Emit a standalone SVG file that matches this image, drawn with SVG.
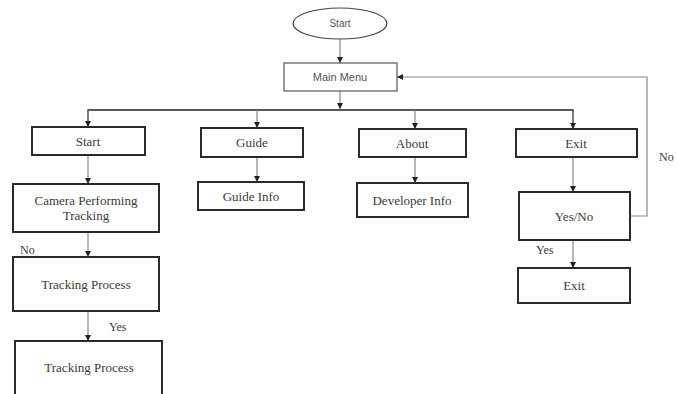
<svg xmlns="http://www.w3.org/2000/svg" width="677" height="394" viewBox="0 0 677 394">
<style>
.box{fill:#fff;stroke:#2a2a2a;stroke-width:2}
.thin{fill:#fff;stroke:#555;stroke-width:1.2}
.t{font-family:"Liberation Serif","Times New Roman",serif;font-size:13px;fill:#3a3a3a;text-anchor:middle}
.s{font-family:"Liberation Sans",Arial,sans-serif;fill:#555;text-anchor:middle}
.lbl{font-family:"Liberation Serif","Times New Roman",serif;font-size:12px;fill:#3a3a3a}
.c{fill:none;stroke:#888;stroke-width:1.2}
.bus{fill:none;stroke:#222;stroke-width:1.3}
</style>
<defs>
<marker id="ah" viewBox="0 0 10 10" refX="10" refY="5" markerWidth="6" markerHeight="6" markerUnits="userSpaceOnUse" orient="auto">
<path d="M0,0 L10,5 L0,10 Z" fill="#222"/>
</marker>
</defs>
<rect width="677" height="394" fill="#fff"/>
<g id="connectors">
<line class="c" x1="340" y1="39" x2="340" y2="63" marker-end="url(#ah)"/>
<line class="c" x1="340" y1="91" x2="340" y2="109" marker-end="url(#ah)"/>
<polyline class="bus" points="88,127 88,110 573,110 573,129"/>
<line class="c" x1="88" y1="110" x2="88" y2="127" marker-end="url(#ah)"/>
<line class="c" x1="257" y1="110" x2="257" y2="128" marker-end="url(#ah)"/>
<line class="c" x1="415" y1="110" x2="415" y2="129" marker-end="url(#ah)"/>
<line class="c" x1="573" y1="112" x2="573" y2="129" marker-end="url(#ah)"/>
<line class="c" x1="88" y1="155" x2="88" y2="184" marker-end="url(#ah)"/>
<line class="c" x1="88" y1="232" x2="88" y2="257" marker-end="url(#ah)"/>
<line class="c" x1="88" y1="311" x2="88" y2="341" marker-end="url(#ah)"/>
<line class="c" x1="257" y1="157" x2="257" y2="182" marker-end="url(#ah)"/>
<line class="c" x1="415" y1="157" x2="415" y2="183" marker-end="url(#ah)"/>
<line class="c" x1="573" y1="157" x2="573" y2="192" marker-end="url(#ah)"/>
<line class="c" x1="573" y1="240" x2="573" y2="268" marker-end="url(#ah)"/>
<polyline class="c" points="630,216 647,216 647,77 397,77" marker-end="url(#ah)"/>
<text class="lbl" x="20" y="254">No</text>
<text class="lbl" x="109" y="331">Yes</text>
<text class="lbl" x="536" y="254">Yes</text>
<text class="lbl" x="659" y="161">No</text>
</g>
<g id="start"><ellipse cx="340" cy="23.5" rx="47" ry="15.5" fill="#fff" stroke="#444" stroke-width="1.2"/><text class="s" x="340" y="27" font-size="10">Start</text></g>
<g id="main-menu"><rect class="thin" x="284" y="63" width="113" height="28"/><text class="s" x="340" y="81" font-size="11">Main Menu</text></g>
<g id="start-btn"><rect class="box" x="32" y="127" width="113" height="28"/><text class="t" x="88" y="146">Start</text></g>
<g id="guide"><rect class="box" x="201" y="128" width="102" height="29"/><text class="t" x="252" y="147">Guide</text></g>
<g id="about"><rect class="box" x="359" y="129" width="107" height="28"/><text class="t" x="412" y="148">About</text></g>
<g id="exit-btn"><rect class="box" x="516" y="129" width="121" height="28"/><text class="t" x="576" y="148">Exit</text></g>
<g id="camera"><rect class="box" x="13" y="184" width="146" height="48"/><text class="t" x="86" y="205">Camera Performing</text><text class="t" x="86" y="220">Tracking</text></g>
<g id="guide-info"><rect class="box" x="198" y="182" width="106" height="28"/><text class="t" x="251" y="201">Guide Info</text></g>
<g id="developer-info"><rect class="box" x="357" y="183" width="111" height="34"/><text class="t" x="412" y="205">Developer Info</text></g>
<g id="yes-no"><rect class="box" x="519" y="192" width="111" height="48"/><text class="t" x="574" y="221">Yes/No</text></g>
<g id="tracking-1"><rect class="box" x="13" y="257" width="146" height="54"/><text class="t" x="86" y="289">Tracking Process</text></g>
<g id="exit"><rect class="box" x="518" y="268" width="112" height="35"/><text class="t" x="574" y="290">Exit</text></g>
<g id="tracking-2"><rect class="box" x="15" y="341" width="147" height="56"/><text class="t" x="89" y="372">Tracking Process</text></g>
</svg>
